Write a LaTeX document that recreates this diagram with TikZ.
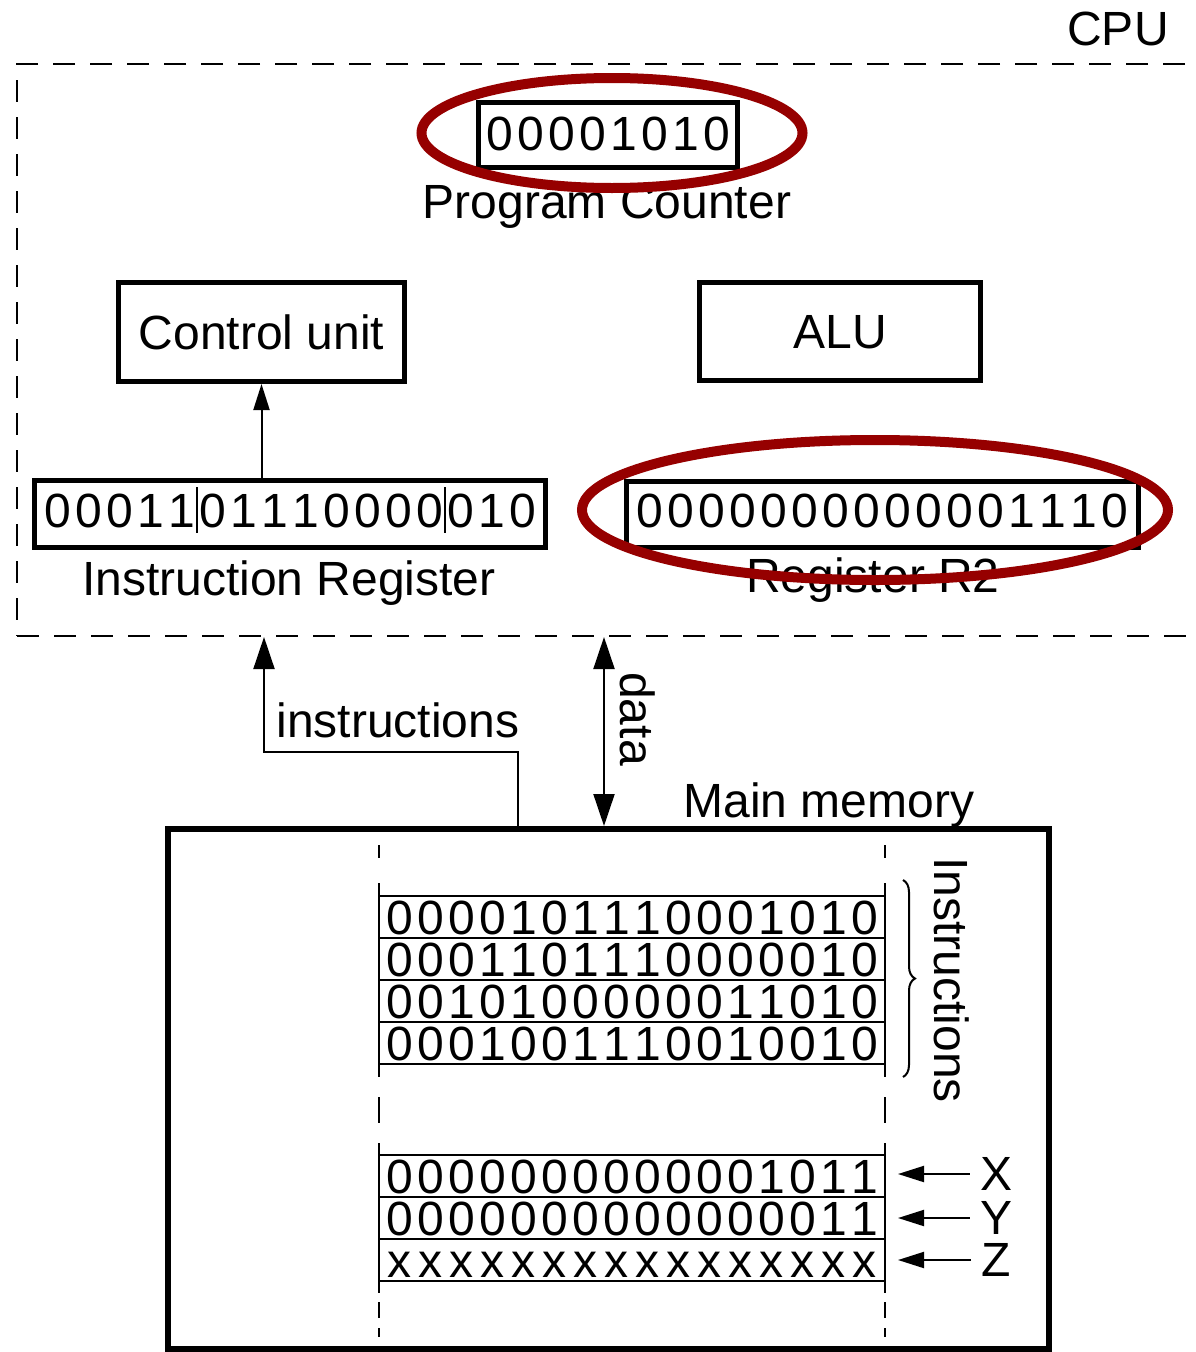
\documentclass[tikz,border=0pt]{standalone}
\usepackage{fontspec}
\setmainfont{Liberation Sans}
\usetikzlibrary{arrows.meta,decorations.pathreplacing}
\definecolor{ovalred}{RGB}{150,0,0}
\def\bitsstop{}
\def\bitsloop#1{\ifx\bitsstop#1\else\makebox[31pt]{#1}\expandafter\bitsloop\fi}
\newcommand\bits[1]{\bitsloop#1\bitsstop}
\newcommand\bitsep{\makebox[0pt]{\rule[-5pt]{1.6pt}{46pt}}}
\begin{document}
\begin{tikzpicture}[x=1pt,y=-1pt,
  every node/.style={inner sep=0pt, font=\fontsize{48}{56}\selectfont},
  regbox/.style={draw, line width=5pt, text height=35pt},
  membox/.style={draw, line width=2pt, minimum width=506pt, minimum height=42pt, text height=35pt, text depth=0pt},
  conn/.style={line width=2pt, -{Triangle[length=26pt,width=16pt]}},
  bigconn/.style={line width=2pt, -{Triangle[length=32pt,width=21pt]}},
  oval/.style={draw=ovalred, line width=10pt},
  memdash/.style={line width=2pt},
]
\path[use as bounding box] (0,0) rectangle (1196,1352);
\clip (0,0) rectangle (1196,1352);

% CPU
\node[draw, dash pattern=on 22pt off 15pt, line width=2pt, minimum width=1223pt, minimum height=572pt] (cpu) at (628.5,350) {};
\node[anchor=base] (cpulbl) at (1118,45) {CPU};

\node[regbox, minimum width=259pt, minimum height=65pt, text depth=5pt] (pc) at (608,135) {\bits{00001010}};
\node[anchor=base] (pclbl) at (607,218) {Program Counter};

\node[regbox, minimum width=286pt, minimum height=99pt] (cu) at (261.5,332) {Control unit};
\node[regbox, minimum width=281pt, minimum height=98pt] (alu) at (840,331.5) {ALU};

\node[regbox, minimum width=511pt, minimum height=67pt, text depth=8pt] (ir) at (290,514) {\bits{00011}\bitsep\bits{01110000}\bitsep\bits{010}};
\node[anchor=base] (irlbl) at (289,595) {Instruction Register};

\node[regbox, minimum width=512pt, minimum height=66pt, text depth=10pt] (r2) at (882.5,514.5) {\bits{0000000000001110}};
\node[anchor=base] (r2lbl) at (873,592) {Register R2};

\draw[oval] (612,133) ellipse [x radius=190.5pt, y radius=55pt];
\draw[oval] (875,510) ellipse [x radius=293pt, y radius=70pt];

\draw[conn] (ir.north -| cu.south) -- (cu.south);

% Memory
\node[draw, line width=6pt, minimum width=881pt, minimum height=520pt] (mem) at (608.5,1089) {};
\node[anchor=base] (memlbl) at (829,817) {Main memory};

\foreach \x in {379,885}
  \foreach \a/\b in {845/858, 883/896, 1064/1077, 1097/1123, 1143/1155, 1281/1293, 1302/1318, 1328/1337}
    \draw[memdash] (\x,\a) -- (\x,\b);

\node[membox] (i1) at (632,917) {\bits{0000101110001010}};
\node[membox] (i2) at (632,959) {\bits{0001101110000010}};
\node[membox] (i3) at (632,1001) {\bits{0010100000011010}};
\node[membox] (i4) at (632,1043) {\bits{0001001110010010}};
\node[membox] (d1) at (632,1176) {\bits{0000000000001011}};
\node[membox] (d2) at (632,1218) {\bits{0000000000000011}};
\node[membox] (d3) at (632,1260) {\bits{xxxxxxxxxxxxxxxx}};

\draw[line width=2pt, decorate, decoration={brace, amplitude=12pt}] (903,880) -- (903,1077);
\node[rotate=-90, anchor=base] (instlbl) at (934,980) {Instructions};

\node (lx) at (996,1174) {X};
\node (ly) at (996,1218) {Y};
\node (lz) at (996,1260) {Z};
\draw[conn, shorten <=10pt, shorten >=12pt] (lx.west) -- (lx.west -| d1.east);
\draw[conn, shorten <=10pt, shorten >=12pt] (ly.west) -- (ly.west -| d2.east);
\draw[conn, shorten <=10pt, shorten >=12pt] (lz.west) -- (lz.west -| d3.east);

% Buses
\coordinate (ifoot) at (518,0);
\coordinate (ibend) at (264,752);
\draw[bigconn] (mem.north -| ifoot) |- (ibend) -- (ibend |- cpu.south);
\node[anchor=base] (instrlbl) at (398,737) {instructions};

\coordinate (dx) at (604,0);
\draw[bigconn, {Triangle[length=32pt,width=21pt]}-{Triangle[length=32pt,width=21pt]}] (mem.north -| dx) -- (cpu.south -| dx);
\node[rotate=-90, anchor=base] (datalbl) at (620,719) {data};
\end{tikzpicture}
\end{document}
